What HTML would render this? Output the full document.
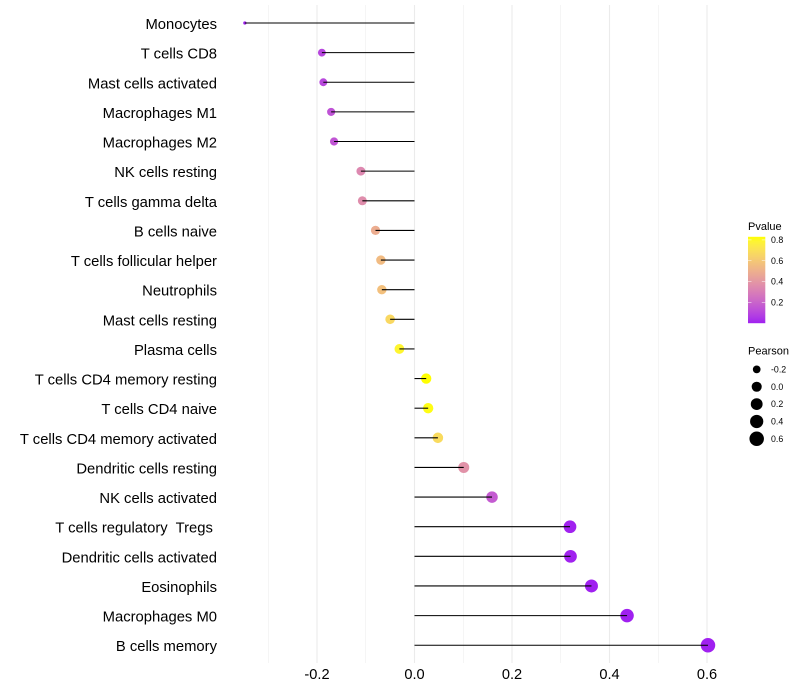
<!DOCTYPE html>
<html lang="en">
<head>
<meta charset="utf-8">
<title>Immune cell correlation lollipop chart</title>
<style>
html,body{margin:0;padding:0;background:#fff;}
svg{display:block;font-family:"Liberation Sans",Arial,sans-serif;}
text{white-space:pre;}
</style>
</head>
<body>
<svg id="chart" width="800" height="700" viewBox="0 0 800 700" xmlns="http://www.w3.org/2000/svg"></svg>
<script>
const categories = ["Monocytes","T cells CD8","Mast cells activated","Macrophages M1","Macrophages M2","NK cells resting","T cells gamma delta","B cells naive","T cells follicular helper","Neutrophils","Mast cells resting","Plasma cells","T cells CD4 memory resting","T cells CD4 naive","T cells CD4 memory activated","Dendritic cells resting","NK cells activated","T cells regulatory  Tregs ","Dendritic cells activated","Eosinophils","Macrophages M0","B cells memory"];
const pearson = [-0.348,-0.19,-0.187,-0.171,-0.165,-0.11,-0.107,-0.08,-0.069,-0.067,-0.05,-0.031,0.024,0.028,0.048,0.101,0.159,0.319,0.32,0.363,0.436,0.602];
const pvalues = [0.002,0.10,0.105,0.14,0.15,0.34,0.36,0.49,0.55,0.57,0.67,0.79,0.83,0.82,0.68,0.38,0.17,0.005,0.005,0.001,0.001,0.001];
const xTicks = [-0.2,0,0.2,0.4,0.6];
const xMinorTicks = [-0.3,-0.1,0.1,0.3,0.5];
const pvalueLegendTicks = [0.2,0.4,0.6,0.8];
const pearsonLegendTicks = [-0.2,0,0.2,0.4,0.6];

const svg = document.getElementById('chart');
const NS = 'http://www.w3.org/2000/svg';

function make(tag, attrs, text) {
  const node = document.createElementNS(NS, tag);
  for (const key in attrs) node.setAttribute(key, attrs[key]);
  if (text !== undefined) node.textContent = text;
  return node;
}

/* axis functions */
const xScale = v => 414.5 + v * 487.5;
const yScale = i => 23 + 29.63 * i;
const panelTop = 5;
const panelBottom = 663;

const pMin = Math.min(...pvalues);
const pMax = Math.max(...pvalues);
const rMin = Math.min(...pearson);
const rMax = Math.max(...pearson);

/* size scale: area-style mapping as in ggplot scale_size */
function diameter(v) {
  const t = Math.max(0, (v - rMin) / (rMax - rMin));
  return 3.3 + Math.sqrt(t) * 11.2;
}

/* colour scale: Lab interpolation purple to yellow */
function toLab(rgb) {
  const lin = rgb.map(c => { c /= 255; return c > 0.04045 ? Math.pow((c + 0.055) / 1.055, 2.4) : c / 12.92; });
  const X = (0.4124 * lin[0] + 0.3576 * lin[1] + 0.1805 * lin[2]) / 0.95047;
  const Y = 0.2126 * lin[0] + 0.7152 * lin[1] + 0.0722 * lin[2];
  const Z = (0.0193 * lin[0] + 0.1192 * lin[1] + 0.9505 * lin[2]) / 1.08883;
  const f = t => t > 0.008856 ? Math.cbrt(t) : 7.787 * t + 16 / 116;
  return [116 * f(Y) - 16, 500 * (f(X) - f(Y)), 200 * (f(Y) - f(Z))];
}
function fromLab(lab) {
  const fy = (lab[0] + 16) / 116, fx = lab[1] / 500 + fy, fz = fy - lab[2] / 200;
  const g = t => t * t * t > 0.008856 ? t * t * t : (t - 16 / 116) / 7.787;
  const X = g(fx) * 0.95047, Y = g(fy), Z = g(fz) * 1.08883;
  const lin = [3.2406 * X - 1.5372 * Y - 0.4986 * Z, -0.9689 * X + 1.8758 * Y + 0.0415 * Z, 0.0557 * X - 0.204 * Y + 1.057 * Z];
  const out = lin.map(c => {
    const s = c > 0.0031308 ? 1.055 * Math.pow(c, 1 / 2.4) - 0.055 : 12.92 * c;
    return Math.round(Math.min(1, Math.max(0, s)) * 255);
  });
  return 'rgb(' + out.join(',') + ')';
}
const labLow = toLab([160, 32, 240]);
const labHigh = toLab([255, 255, 0]);
function colorAt(t) {
  return fromLab(labLow.map((c, k) => c + (labHigh[k] - c) * t));
}
const pColor = p => colorAt((p - pMin) / (pMax - pMin));

/* vertical grid lines */
xMinorTicks.forEach(v => {
  const minor = make('line', {x1: xScale(v), x2: xScale(v), y1: panelTop, y2: panelBottom, stroke: '#ebebeb', 'stroke-width': 0.53});
  
  
  svg.appendChild(minor);
});
xTicks.forEach(v => {
  const major = make('line', {x1: xScale(v), x2: xScale(v), y1: panelTop, y2: panelBottom, stroke: '#ebebeb', 'stroke-width': 1.07});
  
  
  svg.appendChild(major);
});

/* points first, then segments on top */
categories.forEach((name, i) => {
  const dot = make('circle', {cx: xScale(pearson[i]), cy: yScale(i), r: diameter(pearson[i]) / 2, fill: pColor(pvalues[i])});
  
  
  svg.appendChild(dot);
});
categories.forEach((name, i) => {
  const seg = make('line', {x1: xScale(0), x2: xScale(pearson[i]), y1: yScale(i), y2: yScale(i), stroke: '#000', 'stroke-width': 1.07});
  
  
  svg.appendChild(seg);
});

/* y category labels */
categories.forEach((name, i) => {
  const label = make('text', {x: 217, y: yScale(i) + 6, 'text-anchor': 'end', 'font-size': 14.8, fill: '#000'}, name);
  
  
  svg.appendChild(label);
});

/* x tick labels */
xTicks.forEach(v => {
  const label = make('text', {x: xScale(v), y: 679, 'text-anchor': 'middle', 'font-size': 14.6, fill: '#000'}, v.toFixed(1));
  
  
  svg.appendChild(label);
});

/* Pvalue colour legend */
const barX = 748, barW = 17.3, barTop = 236.8, barBottom = 323.2;
const legendY = p => barBottom - (p - pMin) / (pMax - pMin) * (barBottom - barTop);

const pTitle = make('text', {x: 748, y: 230, 'font-size': 11, fill: '#000'}, 'Pvalue');


svg.appendChild(pTitle);

const defs = make('defs', {});
const grad = make('linearGradient', {id: 'pvalue-gradient', x1: 0, y1: 1, x2: 0, y2: 0});
for (let s = 0; s <= 20; s++) {
  grad.appendChild(make('stop', {offset: s / 20, 'stop-color': colorAt(s / 20)}));
}
defs.appendChild(grad);
svg.appendChild(defs);

const bar = make('rect', {x: barX, y: barTop, width: barW, height: barBottom - barTop, fill: 'url(#pvalue-gradient)'});


svg.appendChild(bar);

pvalueLegendTicks.forEach(p => {
  const y = legendY(p);
  const left = make('line', {x1: barX, x2: barX + 3.5, y1: y, y2: y, stroke: '#fff', 'stroke-width': 0.5});
  
  
  svg.appendChild(left);
  const right = make('line', {x1: barX + barW - 3.5, x2: barX + barW, y1: y, y2: y, stroke: '#fff', 'stroke-width': 0.5});
  
  
  svg.appendChild(right);
  const label = make('text', {x: 771, y: y + 3.1, 'font-size': 8.8, fill: '#000'}, p.toFixed(1));
  
  
  svg.appendChild(label);
});

/* Pearson size legend */
const pearsonTitle = make('text', {x: 748, y: 354.5, 'font-size': 11, fill: '#000'}, 'Pearson');


svg.appendChild(pearsonTitle);

pearsonLegendTicks.forEach((v, i) => {
  const y = 369.4 + i * 17.35;
  const key = make('circle', {cx: 756.7, cy: y, r: diameter(v) / 2, fill: '#000'});
  
  
  svg.appendChild(key);
  const label = make('text', {x: 771, y: y + 3.1, 'font-size': 8.8, fill: '#000'}, v.toFixed(1));
  
  
  svg.appendChild(label);
});
</script>
</body>
</html>
